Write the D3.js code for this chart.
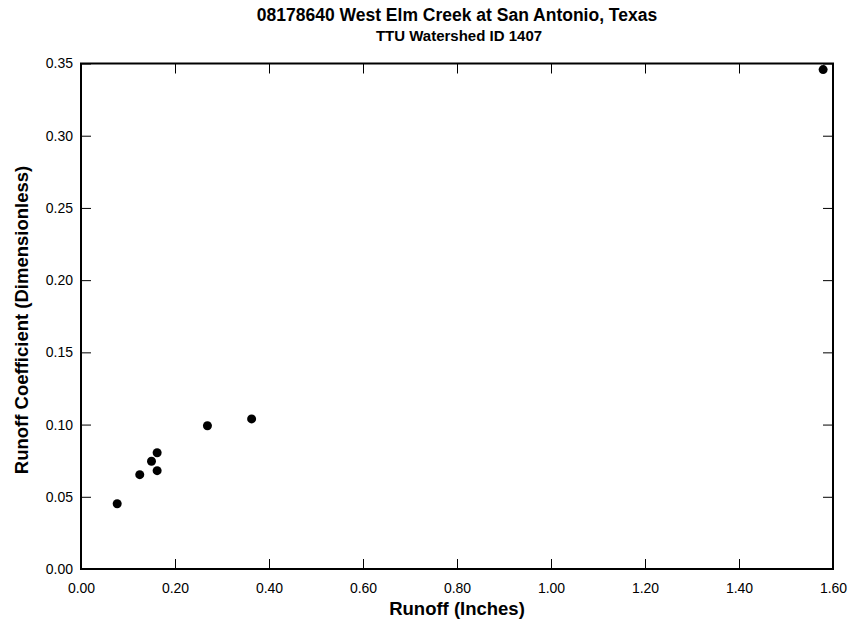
<!DOCTYPE html>
<html><head><meta charset="utf-8">
<script src="https://cdn.jsdelivr.net/npm/d3@7"></script>
<style>body{margin:0;background:#fff}svg{display:block;font-family:"Liberation Sans",Arial,sans-serif}</style>
</head><body>
<script>
const runoff = [0.077, 0.125, 0.150, 0.162, 0.162, 0.269, 0.363, 1.579];
const coeff  = [0.0452, 0.0653, 0.0746, 0.0805, 0.0681, 0.0992, 0.1039, 0.3458];
const xTicks = [0, 0.2, 0.4, 0.6, 0.8, 1.0, 1.2, 1.4, 1.6];
const yTicks = [0, 0.05, 0.10, 0.15, 0.20, 0.25, 0.30, 0.35];
const title = "08178640 West Elm Creek at San Antonio, Texas";
const subtitle = "TTU Watershed ID 1407";
const xLabel = "Runoff (Inches)";
const yLabel = "Runoff Coefficient (Dimensionless)";

const W = 854, H = 626;
const L = 81, R = 833, T = 63.5, B = 569;
const svg = d3.select("body").append("svg").attr("width", W).attr("height", H);
const x = d3.scaleLinear().domain([0, 1.6]).range([L, R]);
const y = d3.scaleLinear().domain([0, 0.35]).range([B, T]);
const ff = "Liberation Sans, Arial, sans-serif";

const tl = 10;
svg.append("g").attr("transform", `translate(0,${B})`)
  .call(d3.axisBottom(x).tickValues(xTicks).tickFormat(d3.format(".2f")).tickSizeInner(-tl).tickSizeOuter(0).tickPadding(14))
  .call(g => { g.select(".domain").remove(); g.selectAll("text").attr("font-size", 14).attr("fill", "#000").attr("font-family", ff); g.selectAll("line").attr("stroke", "#000"); });
svg.append("g").attr("transform", `translate(0,${T})`)
  .call(d3.axisTop(x).tickValues(xTicks).tickFormat("").tickSizeInner(-tl).tickSizeOuter(0))
  .call(g => { g.select(".domain").remove(); g.selectAll("line").attr("stroke", "#000"); });
svg.append("g").attr("transform", `translate(${L},0)`)
  .call(d3.axisLeft(y).tickValues(yTicks).tickFormat(d3.format(".2f")).tickSizeInner(-tl).tickSizeOuter(0).tickPadding(8))
  .call(g => { g.select(".domain").remove(); g.selectAll("text").attr("font-size", 14).attr("fill", "#000").attr("font-family", ff); g.selectAll("line").attr("stroke", "#000"); });
svg.append("g").attr("transform", `translate(${R},0)`)
  .call(d3.axisRight(y).tickValues(yTicks).tickFormat("").tickSizeInner(-tl).tickSizeOuter(0))
  .call(g => { g.select(".domain").remove(); g.selectAll("line").attr("stroke", "#000"); });

svg.append("rect").attr("x", L).attr("y", T).attr("width", R - L).attr("height", B - T)
  .attr("fill", "none").attr("stroke", "#000").attr("stroke-width", 2);

svg.append("g").selectAll("circle").data(runoff.map((r, i) => [r, coeff[i]])).join("circle")
  .attr("cx", d => x(d[0])).attr("cy", d => y(d[1])).attr("r", 4.5).attr("fill", "#000");

svg.append("text").attr("x", 457).attr("y", 21).attr("text-anchor", "middle")
  .attr("font-size", 17.5).attr("font-weight", "bold").text(title);
svg.append("text").attr("x", 459).attr("y", 40.5).attr("text-anchor", "middle")
  .attr("font-size", 15).attr("font-weight", "bold").text(subtitle);
svg.append("text").attr("x", 457).attr("y", 615).attr("text-anchor", "middle")
  .attr("font-size", 18.5).attr("font-weight", "bold").text(xLabel);
svg.append("text").attr("transform", `translate(28,320) rotate(-90)`).attr("text-anchor", "middle")
  .attr("font-size", 18.5).attr("font-weight", "bold").text(yLabel);
</script>
</body></html>
